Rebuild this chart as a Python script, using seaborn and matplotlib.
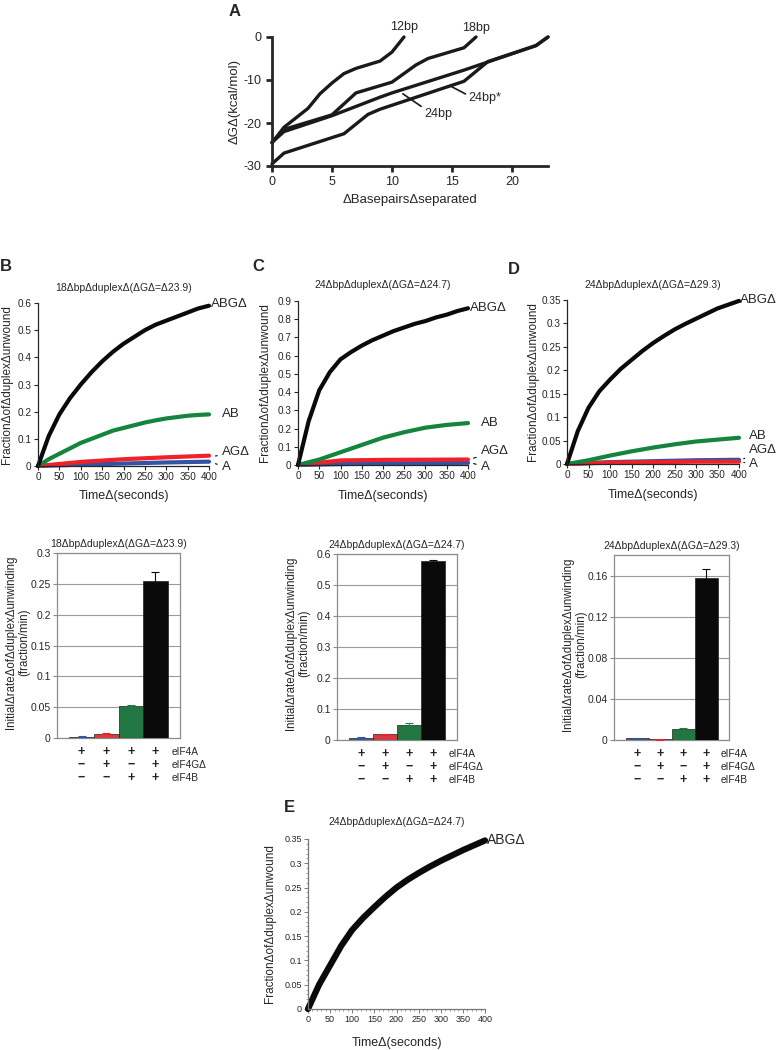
import matplotlib
matplotlib.use('Agg')
import matplotlib.pyplot as plt
import matplotlib.transforms as mtransforms
from matplotlib.ticker import FuncFormatter, MultipleLocator
import pandas as pd
import seaborn as sns

# ---- Panel A: free energy of unwinding vs. basepairs separated
bp_12 = [0, 1, 3, 4, 5, 6, 7, 9, 10, 11]
dg_12 = [-24.6, -21, -16.6, -13.2, -10.7, -8.5, -7.3, -5.6, -3.5, 0]
bp_18 = [0, 1, 5, 7, 10, 12, 13, 16, 17]
dg_18 = [-24.5, -21.5, -18.1, -13, -10.5, -6.5, -5, -2.5, 0]
bp_24 = [0, 1, 5, 9, 10, 16, 18, 22, 23]
dg_24 = [-24.5, -22, -18.3, -14, -13, -7.7, -5.8, -2, 0]
bp_24s = [0, 1, 6, 8, 9, 16, 18, 22, 23]
dg_24s = [-29.5, -27, -22.5, -18, -16.8, -10.3, -5.7, -2, 0]

# ---- Panels B-E: unwinding time courses (seconds, fraction unwound)
t_fine = [0, 25, 50, 75, 100, 125, 150, 175, 200, 225, 250, 275, 300, 325, 350, 375, 400]
t_coarse = [0, 50, 100, 150, 200, 250, 300, 350, 400]
t_lin = [0, 100, 200, 300, 400]

b_abg = [0, 0.11, 0.19, 0.25, 0.30, 0.345, 0.385, 0.42, 0.45, 0.475, 0.50, 0.52, 0.535, 0.55, 0.565, 0.58, 0.59]
b_ab = [0, 0.025, 0.045, 0.065, 0.085, 0.10, 0.115, 0.13, 0.14, 0.15, 0.16, 0.168, 0.175, 0.18, 0.185, 0.188, 0.19]
b_ag = [0, 0.015, 0.025, 0.032, 0.038]
b_a = [0, 0.005, 0.009, 0.013, 0.016]

c_abg = [0, 0.24, 0.41, 0.51, 0.58, 0.62, 0.655, 0.685, 0.71, 0.735, 0.755, 0.775, 0.79, 0.81, 0.825, 0.845, 0.86]
c_ab = [0, 0.03, 0.07, 0.11, 0.15, 0.18, 0.205, 0.22, 0.23]
c_ag = [0, 0.025, 0.028, 0.029, 0.03]
c_a = [0, 0.005, 0.008, 0.01, 0.012]

d_abg = [0, 0.07, 0.12, 0.155, 0.18, 0.203, 0.222, 0.241, 0.258, 0.273, 0.287, 0.299, 0.31, 0.321, 0.332, 0.34, 0.348]
d_ab = [0, 0.008, 0.018, 0.027, 0.035, 0.042, 0.048, 0.052, 0.056]
d_ag = [0, 0.004, 0.006, 0.008, 0.009]
d_a = [0, 0.003, 0.004, 0.005, 0.005]

e_abg = [0, 0.05, 0.09, 0.13, 0.163, 0.188, 0.21, 0.231, 0.25, 0.266, 0.28, 0.293, 0.305, 0.316, 0.327, 0.337, 0.347]

# ---- Initial rates (fraction/min)
rate_b = [0.002, 0.007, 0.052, 0.255]
err_b = [0.0005, 0.001, 0.001, 0.015]
rate_c = [0.008, 0.018, 0.05, 0.577]
err_c = [0.001, 0.002, 0.006, 0.004]
rate_d = [0.0015, 0.0007, 0.011, 0.158]
err_d = [0.0003, 0.0003, 0.0008, 0.008]

conditions = ['A', 'AG', 'AB', 'ABG']
factor_names = ['eIF4A', 'eIF4GΔ', 'eIF4B']
factor_marks = [['+', '+', '+', '+'],
                ['−', '+', '−', '+'],
                ['−', '−', '+', '+']]

BLUE = '#3253a6'
RED = '#ee2228'
GREEN = '#14843f'
BLACK = '#0a0a0a'
bar_colors = [BLUE, RED, GREEN, BLACK]

sns.set_style('ticks')
plt.rcParams['font.family'] = ['Liberation Sans', 'DejaVu Sans']
plt.rcParams['axes.linewidth'] = 0.9
plt.rcParams['axes.unicode_minus'] = False

fig = plt.figure(figsize=(7.78, 10.5), dpi=100)
W, H = 778.0, 1050.0


def px_axes(x0, y0, x1, y1):
    # rectangle given in pixel coords of the page (top-left origin)
    return fig.add_axes([x0 / W, 1 - y1 / H, (x1 - x0) / W, (y1 - y0) / H])


fmt_g = FuncFormatter(lambda v, p: f'{v:g}')

# ================= Panel A
axA = px_axes(272, 37, 548, 166)
for xs, ys in [(bp_12, dg_12), (bp_18, dg_18), (bp_24, dg_24), (bp_24s, dg_24s)]:
    sns.lineplot(x=xs, y=ys, color='#1a1a1a', lw=2.4, ax=axA, clip_on=False)
axA.set_xlim(0, 23)
axA.set_ylim(-30, 0)
axA.set_xticks([0, 5, 10, 15, 20])
axA.set_yticks([0, -10, -20, -30])
sns.despine(ax=axA)
for s in ['left', 'bottom']:
    axA.spines[s].set_linewidth(2)
axA.tick_params(width=2, length=4, labelsize=9)
axA.set_xlabel('ΔBasepairsΔseparated', fontsize=9.5, labelpad=4)
axA.set_ylabel('ΔGΔ(kcal/mol)', fontsize=9.5, labelpad=2)
axA.text(11, 2.3, '12bp', fontsize=9, ha='center', va='center')
axA.text(17, 2.1, '18bp', fontsize=9, ha='center', va='center')
axA.annotate('24bp*', xy=(15.0, -11.6), xytext=(16.4, -14.2), fontsize=9, va='center',
             arrowprops=dict(arrowstyle='-', color='#1a1a1a', lw=1.2, shrinkA=0, shrinkB=0,
                             relpos=(0, 0.7)))
axA.annotate('24bp', xy=(10.9, -13.2), xytext=(12.7, -17.9), fontsize=9, va='center',
             arrowprops=dict(arrowstyle='-', color='#1a1a1a', lw=1.2, shrinkA=0, shrinkB=0,
                             relpos=(0, 0.95)))
fig.text(229 / W, 1 - 12 / H, 'A', fontsize=12, fontweight='bold', va='center')


# ================= Panels B-D kinetics
def draw_kinetics(ax, traces, ymax, ystep, title, labels, ylab_x):
    for xs, ys, col in traces:
        sns.lineplot(x=xs, y=ys, color=col, lw=3, ax=ax, clip_on=False)
    ax.set_xlim(0, 400)
    ax.set_ylim(0, ymax)
    ax.xaxis.set_major_locator(MultipleLocator(50))
    ax.yaxis.set_major_locator(MultipleLocator(ystep))
    ax.yaxis.set_major_formatter(fmt_g)
    sns.despine(ax=ax)
    ax.tick_params(length=3, width=0.8, labelsize=7.2, pad=1.5)
    ax.set_title(title, fontsize=7.5, pad=9)
    ax.set_xlabel('TimeΔ(seconds)', fontsize=9)
    ax.xaxis.set_label_coords(0.5, -0.15)
    ax.set_ylabel('FractionΔofΔduplexΔunwound', fontsize=8.5)
    ax.yaxis.set_label_coords(ylab_x, 0.5)
    for txt, xy, xt in labels:
        if xy is None:
            ax.text(xt[0], xt[1], txt, fontsize=9.5, va='center', clip_on=False)
        else:
            ax.annotate(txt, xy=xy, xytext=xt, fontsize=9.5, va='center', annotation_clip=False,
                        arrowprops=dict(arrowstyle='-', color='k', lw=0.8, shrinkA=1, shrinkB=1))


axB = px_axes(38, 303, 209, 466)
draw_kinetics(axB, [(t_lin, b_a, BLUE), (t_lin, b_ag, RED), (t_fine, b_ab, GREEN), (t_fine, b_abg, BLACK)],
              0.6, 0.1, '18ΔbpΔduplexΔ(ΔGΔ=Δ23.9)',
              [('ABGΔ', None, (404, 0.595)), ('AB', None, (430, 0.19)),
               ('AGΔ', (412, 0.036), (430, 0.05)), ('A', (412, 0.01), (430, -0.004))], -0.148)

axC = px_axes(298, 301, 468, 465)
draw_kinetics(axC, [(t_lin, c_a, BLUE), (t_lin, c_ag, RED), (t_coarse, c_ab, GREEN), (t_fine, c_abg, BLACK)],
              0.9, 0.1, '24ΔbpΔduplexΔ(ΔGΔ=Δ24.7)',
              [('ABGΔ', None, (404, 0.86)), ('AB', None, (430, 0.23)),
               ('AGΔ', (410, 0.035), (430, 0.075)), ('A', (410, 0.01), (430, -0.01))], -0.16)

axD = px_axes(567, 300, 739, 464)
draw_kinetics(axD, [(t_lin, d_ag, BLUE), (t_lin, d_a, RED), (t_coarse, d_ab, GREEN), (t_fine, d_abg, BLACK)],
              0.35, 0.05, '24ΔbpΔduplexΔ(ΔGΔ=Δ29.3)',
              [('ABGΔ', None, (402, 0.35)), ('AB', None, (424, 0.059)),
               ('AGΔ', (408, 0.01), (424, 0.03)), ('A', (408, 0.004), (424, -0.001))], -0.16)

fig.text(0 / W, 1 - 266 / H, 'B', fontsize=12, fontweight='bold', va='center')
fig.text(252 / W, 1 - 266 / H, 'C', fontsize=12, fontweight='bold', va='center')
fig.text(508 / W, 1 - 270 / H, 'D', fontsize=12, fontweight='bold', va='center')


# ================= Bar charts of initial rates
def draw_rates(ax, rates, errs, ymax, ystep, title, ylab_x):
    df = pd.DataFrame({'cond': conditions, 'rate': rates})
    sns.barplot(data=df, x='cond', y='rate', hue='cond', palette=bar_colors, width=1.0,
                legend=False, edgecolor='#222222', linewidth=0.5, ax=ax, zorder=3)
    for i, (r, e) in enumerate(zip(rates, errs)):
        ax.errorbar(i, r, yerr=e, color=bar_colors[i], capsize=3, elinewidth=0.8,
                    capthick=0.8, zorder=4)
    ax.set_xlim(-1, 4)
    ax.set_ylim(0, ymax)
    ax.yaxis.set_major_locator(MultipleLocator(ystep))
    ax.yaxis.set_major_formatter(fmt_g)
    ax.grid(axis='y', color='#9a9a9a', lw=0.8, zorder=0)
    for s in ax.spines.values():
        s.set_color('#8c8c8c')
        s.set_linewidth(0.9)
    ax.tick_params(axis='x', bottom=False, labelbottom=False)
    ax.tick_params(axis='y', length=3, width=0.8, color='#8c8c8c', labelsize=7.5, pad=1.5)
    ax.set_xlabel('')
    ax.set_title(title, fontsize=7.5, pad=4)
    ax.set_ylabel('InitialΔrateΔofΔduplexΔunwinding\n(fraction/min)', fontsize=8.3, linespacing=1.1)
    ax.yaxis.set_label_coords(ylab_x, 0.52)
    tr = mtransforms.blended_transform_factory(ax.transData, ax.transAxes)
    for r, (name, marks) in enumerate(zip(factor_names, factor_marks)):
        yy = -0.075 - 0.07 * r
        for i, m in enumerate(marks):
            ax.text(i, yy, m, transform=tr, ha='center', va='center', fontsize=9, fontweight='bold')
        ax.text(3.65, yy, name, transform=tr, ha='left', va='center', fontsize=7.3)


axBb = px_axes(57, 553, 180, 738)
draw_rates(axBb, rate_b, err_b, 0.3, 0.05, '18ΔbpΔduplexΔ(ΔGΔ=Δ23.9)', -0.22)
axCb = px_axes(337, 554, 457, 740)
draw_rates(axCb, rate_c, err_c, 0.6, 0.1, '24ΔbpΔduplexΔ(ΔGΔ=Δ24.7)', -0.225)
axDb = px_axes(614, 555, 729, 740)
draw_rates(axDb, rate_d, err_d, 0.18, 0.04, '24ΔbpΔduplexΔ(ΔGΔ=Δ29.3)', -0.235)

# ================= Panel E
axE = px_axes(308, 839, 485, 1009)
sns.lineplot(x=t_fine, y=e_abg, color=BLACK, lw=4.5, ax=axE, clip_on=False)
axE.set_xlim(0, 400)
axE.set_ylim(0, 0.35)
axE.xaxis.set_major_locator(MultipleLocator(50))
axE.xaxis.set_minor_locator(MultipleLocator(10))
axE.yaxis.set_major_locator(MultipleLocator(0.05))
axE.yaxis.set_minor_locator(MultipleLocator(0.01))
axE.yaxis.set_major_formatter(fmt_g)
sns.despine(ax=axE)
for s in ['left', 'bottom']:
    axE.spines[s].set_color('#777777')
axE.tick_params(which='major', length=3, width=0.7, labelsize=6.5, pad=1.5, color='#777777')
axE.tick_params(which='minor', length=1.5, width=0.5, color='#777777')
axE.set_title('24ΔbpΔduplexΔ(ΔGΔ=Δ24.7)', fontsize=7.5, pad=10)
axE.set_xlabel('TimeΔ(seconds)', fontsize=9)
axE.xaxis.set_label_coords(0.5, -0.165)
axE.set_ylabel('FractionΔofΔduplexΔunwound', fontsize=8.5)
axE.yaxis.set_label_coords(-0.18, 0.5)
axE.text(404, 0.348, 'ABGΔ', fontsize=10, va='center', clip_on=False)
fig.text(284 / W, 1 - 808 / H, 'E', fontsize=12, fontweight='bold', va='center')

fig.savefig('out.png', dpi=100)
plt.close(fig)
